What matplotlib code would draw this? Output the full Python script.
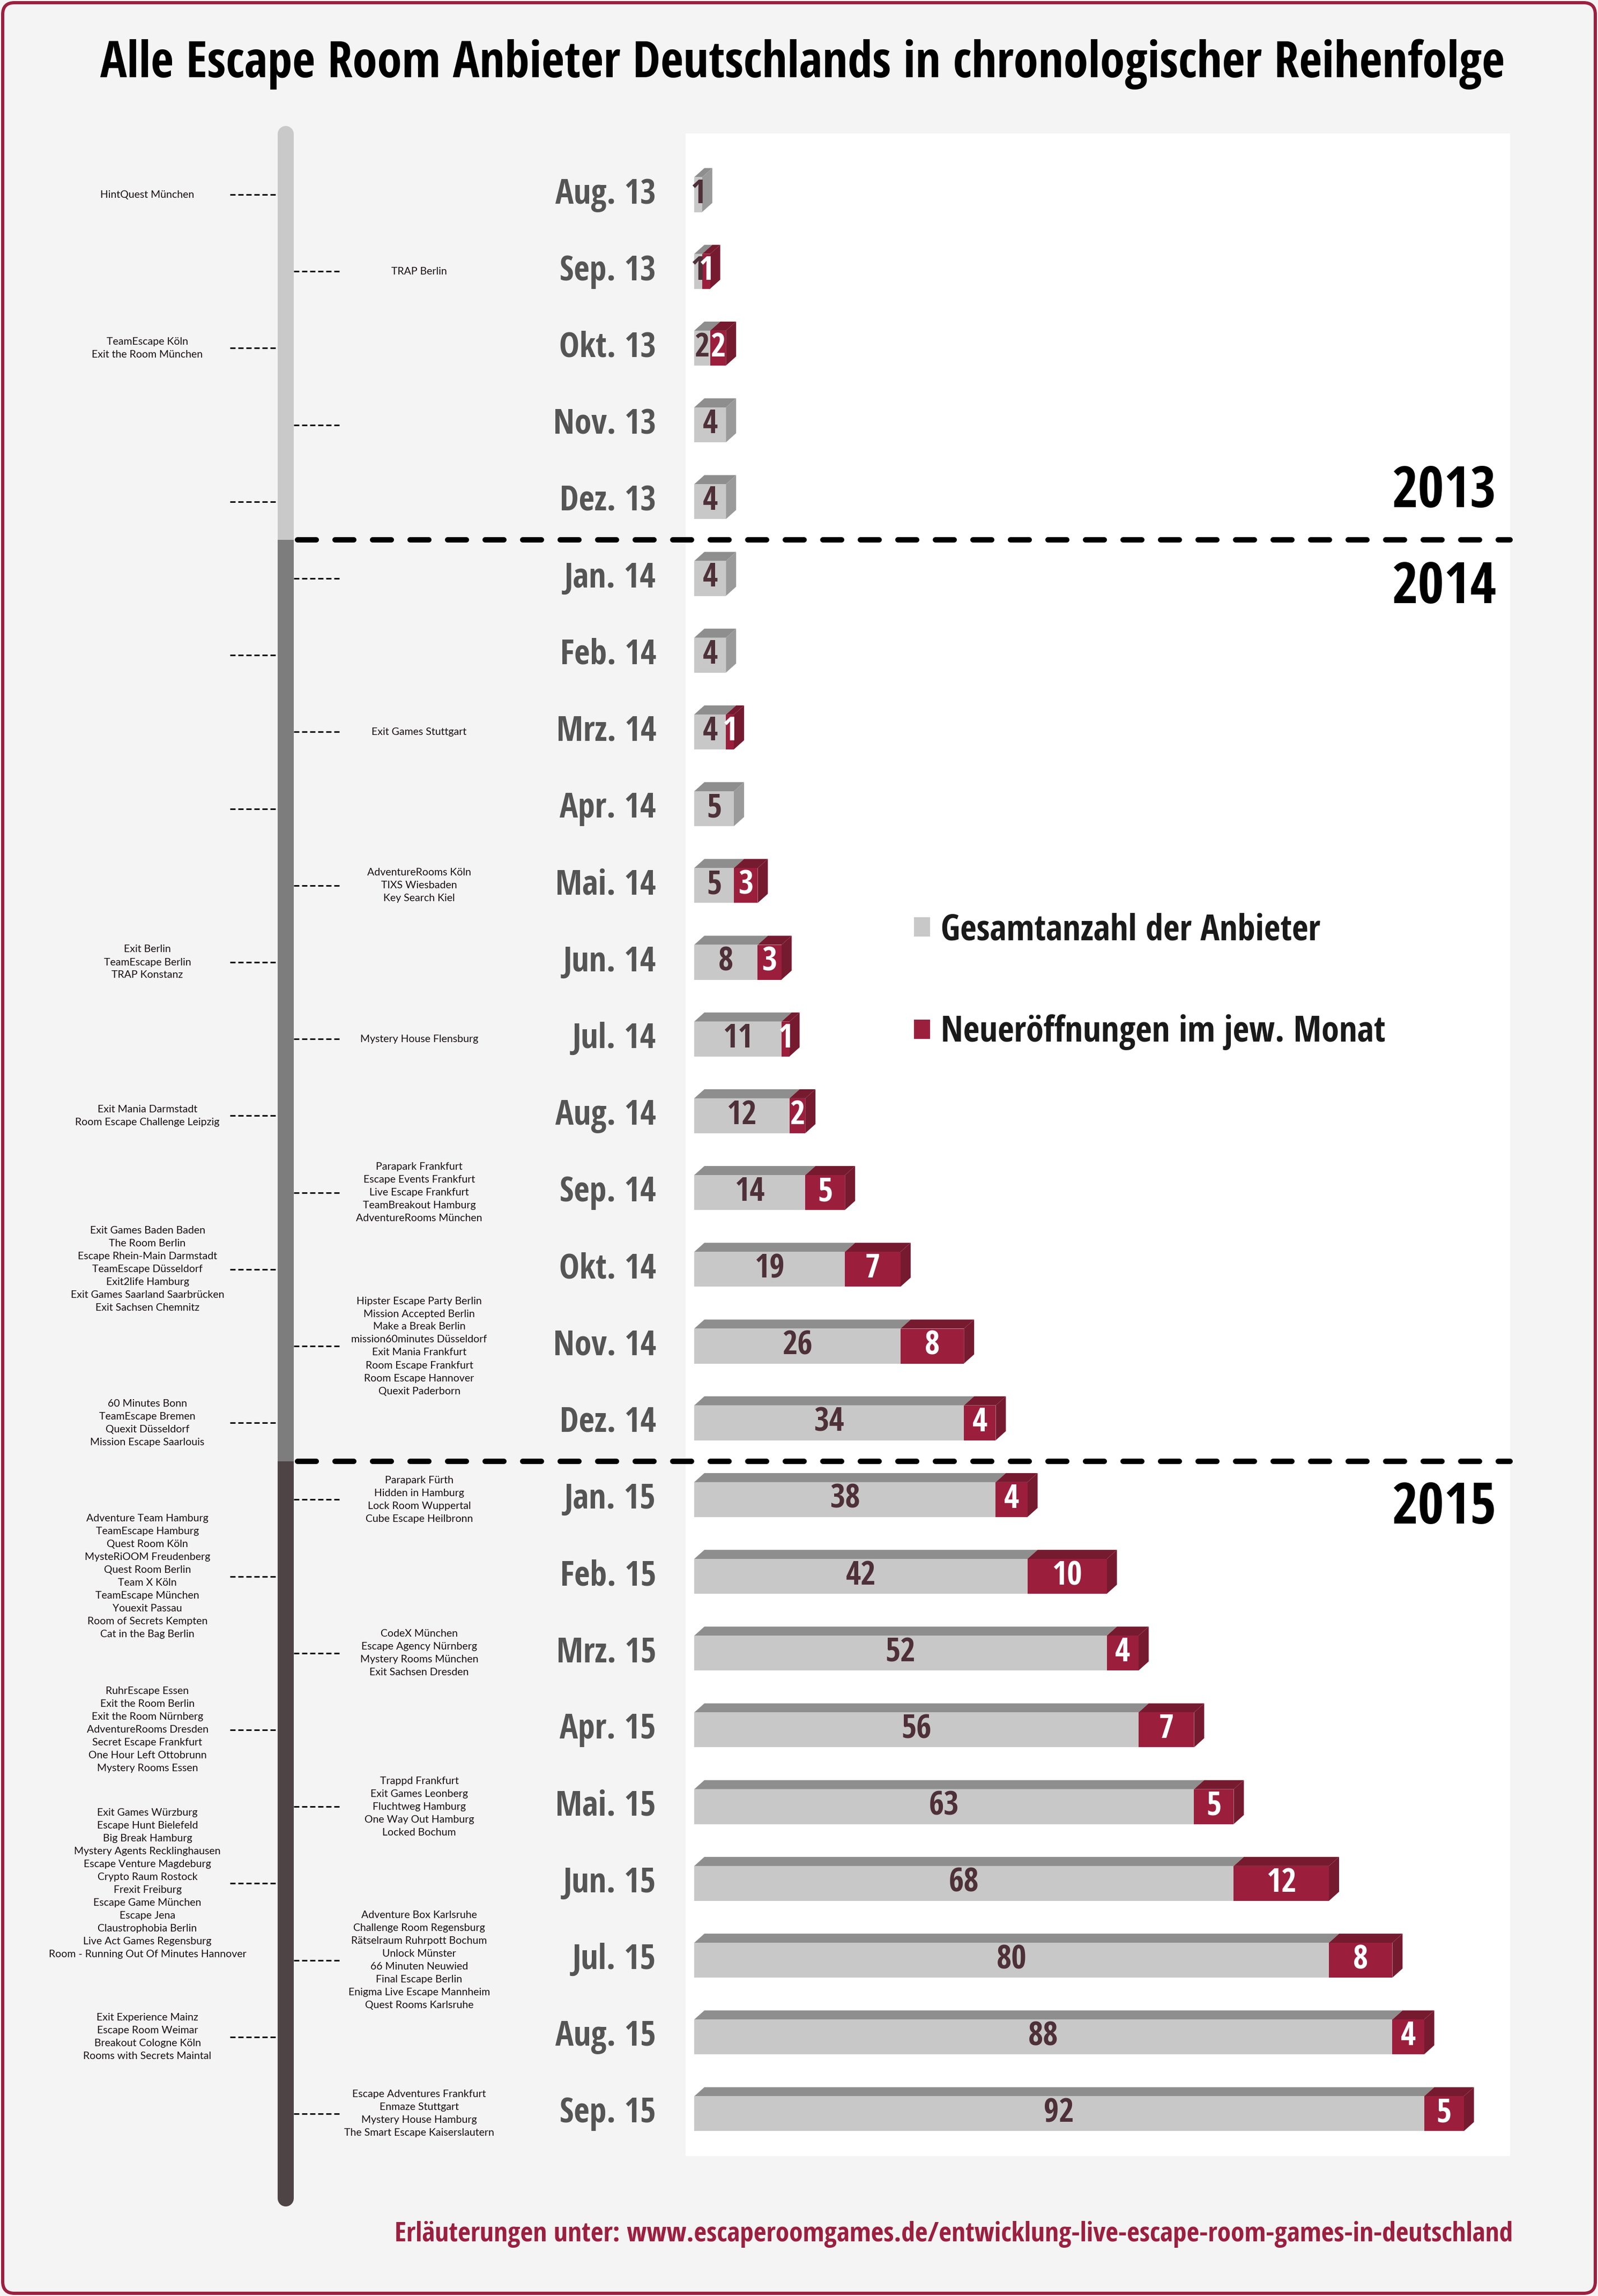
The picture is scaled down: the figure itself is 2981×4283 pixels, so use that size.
import os
import matplotlib
matplotlib.use("Agg")
import matplotlib.pyplot as plt
from matplotlib import font_manager as fm
from matplotlib import transforms
from matplotlib.patches import Polygon, FancyBboxPatch, Patch

W, H = 2981, 4283
DPI = 100
PT = 72 / DPI  # points per pixel

# --- Daten -------------------------------------------------------------
monate = ["Aug. 13", "Sep. 13", "Okt. 13", "Nov. 13", "Dez. 13",
          "Jan. 14", "Feb. 14", "Mrz. 14", "Apr. 14", "Mai. 14", "Jun. 14",
          "Jul. 14", "Aug. 14", "Sep. 14", "Okt. 14", "Nov. 14", "Dez. 14",
          "Jan. 15", "Feb. 15", "Mrz. 15", "Apr. 15", "Mai. 15", "Jun. 15",
          "Jul. 15", "Aug. 15", "Sep. 15"]
gesamt = [1, 1, 2, 4, 4, 4, 4, 4, 5, 5, 8, 11, 12, 14, 19, 26, 34,
          38, 42, 52, 56, 63, 68, 80, 88, 92]
neu = [0, 1, 2, 0, 0, 0, 0, 1, 0, 3, 3, 1, 2, 5, 7, 8, 4,
       4, 10, 4, 7, 5, 12, 8, 4, 5]
jahre = ["2013", "2014", "2015"]

anbieter = [
    ["HintQuest München"],
    ["TRAP Berlin"],
    ["TeamEscape Köln", "Exit the Room München"],
    [],
    [],
    [],
    [],
    ["Exit Games Stuttgart"],
    [],
    ["AdventureRooms Köln", "TIXS Wiesbaden", "Key Search Kiel"],
    ["Exit Berlin", "TeamEscape Berlin", "TRAP Konstanz"],
    ["Mystery House Flensburg"],
    ["Exit Mania Darmstadt", "Room Escape Challenge Leipzig"],
    ["Parapark Frankfurt", "Escape Events Frankfurt", "Live Escape Frankfurt",
     "TeamBreakout Hamburg", "AdventureRooms München"],
    ["Exit Games Baden Baden", "The Room Berlin", "Escape Rhein-Main Darmstadt",
     "TeamEscape Düsseldorf", "Exit2life Hamburg",
     "Exit Games Saarland Saarbrücken", "Exit Sachsen Chemnitz"],
    ["Hipster Escape Party Berlin", "Mission Accepted Berlin",
     "Make a Break Berlin", "mission60minutes Düsseldorf",
     "Exit Mania Frankfurt", "Room Escape Frankfurt", "Room Escape Hannover",
     "Quexit Paderborn"],
    ["60 Minutes Bonn", "TeamEscape Bremen", "Quexit Düsseldorf",
     "Mission Escape Saarlouis"],
    ["Parapark Fürth", "Hidden in Hamburg", "Lock Room Wuppertal",
     "Cube Escape Heilbronn"],
    ["Adventure Team Hamburg", "TeamEscape Hamburg", "Quest Room Köln",
     "MysteRiOOM Freudenberg", "Quest Room Berlin", "Team X Köln",
     "TeamEscape München", "Youexit Passau", "Room of Secrets Kempten",
     "Cat in the Bag Berlin"],
    ["CodeX München", "Escape Agency Nürnberg", "Mystery Rooms München",
     "Exit Sachsen Dresden"],
    ["RuhrEscape Essen", "Exit the Room Berlin", "Exit the Room Nürnberg",
     "AdventureRooms Dresden", "Secret Escape Frankfurt",
     "One Hour Left Ottobrunn", "Mystery Rooms Essen"],
    ["Trappd Frankfurt", "Exit Games Leonberg", "Fluchtweg Hamburg",
     "One Way Out Hamburg", "Locked Bochum"],
    ["Exit Games Würzburg", "Escape Hunt Bielefeld", "Big Break Hamburg",
     "Mystery Agents Recklinghausen", "Escape Venture Magdeburg",
     "Crypto Raum Rostock", "Frexit Freiburg", "Escape Game München",
     "Escape Jena", "Claustrophobia Berlin", "Live Act Games Regensburg",
     "Room - Running Out Of Minutes Hannover"],
    ["Adventure Box Karlsruhe", "Challenge Room Regensburg",
     "Rätselraum Ruhrpott Bochum", "Unlock Münster", "66 Minuten Neuwied",
     "Final Escape Berlin", "Enigma Live Escape Mannheim",
     "Quest Rooms Karlsruhe"],
    ["Exit Experience Mainz", "Escape Room Weimar", "Breakout Cologne Köln",
     "Rooms with Secrets Maintal"],
    ["Escape Adventures Frankfurt", "Enmaze Stuttgart", "Mystery House Hamburg",
     "The Smart Escape Kaiserslautern"],
]

legende = ["Gesamtanzahl der Anbieter", "Neueröffnungen im jew. Monat"]
titel = "Alle Escape Room Anbieter Deutschlands in chronologischer Reihenfolge"
fusszeile = ("Erläuterungen unter: "
             "www.escaperoomgames.de/entwicklung-live-escape-room-games-in-deutschland")

# --- Farben ------------------------------------------------------------
BG = "#f4f4f4"
ROT = "#9b1f3d"
ROT_DUNKEL = "#761a30"
GRAU = "#c8c8c8"
GRAU_DUNKEL = "#8e8e8e"
ZAHL = "#4e3039"
TIMELINE = ["#c9c9c9", "#7d7d7d", "#4e4446"]


def pick_font(names):
    for n in names:
        try:
            fm.findfont(fm.FontProperties(family=n), fallback_to_default=False)
            return n
        except Exception:
            pass
    return "DejaVu Sans"


SCHMAL = pick_font(["Liberation Sans Narrow", "Open Sans Condensed",
                    "Roboto Condensed", "Lato"])
plt.rcParams["font.family"] = [SCHMAL, "DejaVu Sans"]

# font for the small provider names: a light condensed cut if there is one
_light = fm.findfont(fm.FontProperties(family=SCHMAL, weight="light"))
if "bold" in os.path.basename(_light).lower():
    NAMEN_FONT, NAMEN_SIZE, NAMEN_LS, NAMEN_W = ["Lato", "DejaVu Sans"], 14, 1.5, "normal"
else:
    NAMEN_FONT, NAMEN_SIZE, NAMEN_LS, NAMEN_W = [SCHMAL, "DejaVu Sans"], 17, 1.12, "light"

fig = plt.figure(figsize=(W / DPI, H / DPI), dpi=DPI, facecolor=BG)

# background axes in pixel coordinates
bg = fig.add_axes([0, 0, 1, 1])
bg.set_xlim(0, W)
bg.set_ylim(H, 0)
bg.axis("off")
bg.add_patch(FancyBboxPatch((5, 5), W - 10, H - 10,
                            boxstyle="round,pad=0,rounding_size=22",
                            facecolor=BG, edgecolor="#9b2040", lw=6 * PT))

# bar axes: x = Anzahl, y = Monatsindex
x0_px, px_per_unit = 1295, 14.8
row0_px, row_px = 363, 143.2
pl, pr, pt_, pb = 1279, 2817, 249, 4022
ax = fig.add_axes([pl / W, 1 - pb / H, (pr - pl) / W, (pb - pt_) / H])
ax.set_facecolor("white")
ax.set_xlim((pl - x0_px) / px_per_unit, (pr - x0_px) / px_per_unit)
ax.set_ylim((pb - row0_px) / row_px, (pt_ - row0_px) / row_px)
ax.set_xticks([])
ax.set_yticks([])
for s in ax.spines.values():
    s.set_visible(False)

tr = transforms.blended_transform_factory(bg.transData, ax.transData)

ypos = list(range(len(monate)))
BH = 65 / row_px
DX = 19 / px_per_unit
DY = 17 / row_px

ax.barh(ypos, gesamt, height=BH, color=GRAU, zorder=3)
ax.barh(ypos, neu, left=gesamt, height=BH, color=ROT, zorder=3)

for y, g, n in zip(ypos, gesamt, neu):
    top = y - BH / 2
    ax.add_patch(Polygon([(0, top), (g, top), (g + DX, top - DY), (DX, top - DY)],
                         closed=True, color=GRAU_DUNKEL, lw=0, zorder=2))
    end = g + n
    if n > 0:
        ax.add_patch(Polygon([(g, top), (end, top), (end + DX, top - DY),
                              (g + DX, top - DY)],
                             closed=True, color=ROT_DUNKEL, lw=0, zorder=2.5))
    side_col = ROT_DUNKEL if n > 0 else "#9a9a9a"
    ax.add_patch(Polygon([(end, top), (end + DX, top - DY),
                          (end + DX, top + BH - DY), (end, top + BH)],
                         closed=True, color=side_col, lw=0, zorder=2.5))
    ax.text(g / 2, y, str(g), ha="center", va="center", fontsize=44,
            fontweight="bold", color=ZAHL, zorder=5)
    if n > 0:
        ax.text(g + n / 2, y, str(n), ha="center", va="center", fontsize=44,
                fontweight="bold", color="white", zorder=5)

# Monatsnamen
for y, m in zip(ypos, monate):
    bg.text(1224, y, m, transform=tr, ha="right", va="center", fontsize=46,
            fontweight="bold", color="#555555")

# Jahreswechsel
wechsel = [i - 0.5 for i in range(1, len(monate))
           if monate[i][-2:] != monate[i - 1][-2:]]

# Zeitstrahl
grenzen = [-0.79] + wechsel + [26.1]
lw_tl = 30 * PT
bg.plot([533, 533], [grenzen[0], grenzen[1]], transform=tr,
        color=TIMELINE[0], lw=lw_tl, solid_capstyle="round")
bg.plot([533, 533], [grenzen[2], grenzen[3]], transform=tr,
        color=TIMELINE[2], lw=lw_tl, solid_capstyle="round")
bg.plot([533, 533], [grenzen[1], grenzen[2]], transform=tr,
        color=TIMELINE[1], lw=lw_tl, solid_capstyle="butt")

for w in wechsel:
    ax.plot([555, 2817], [w, w], transform=tr, color="black", lw=10 * PT,
            dashes=(3.5, 3.5), dash_capstyle="round", clip_on=False, zorder=6)

jahr_y = [wechsel[0] - 0.62, wechsel[0] + 0.63, wechsel[1] + 0.62]
for j, yy in zip(jahre, jahr_y):
    ax.text(2792, yy, j, transform=tr, ha="right", va="center", fontsize=76,
            fontweight="bold", color="black", zorder=6)

# Verbindungslinien und Anbieternamen
for y, namen in zip(ypos, anbieter):
    if y % 2 == 0:
        xs, xt = (429, 518), 275
    else:
        xs, xt = (548, 634), 782
    bg.plot(xs, [y, y], transform=tr, color="#151515", lw=3 * PT,
            dashes=(3.3, 1.7))
    if namen:
        bg.text(xt, y, "\n".join(namen), transform=tr, ha="center",
                va="center", multialignment="center", family=NAMEN_FONT,
                fontsize=NAMEN_SIZE, fontweight=NAMEN_W,
                linespacing=NAMEN_LS, color="#1a1013")

# Legende
handles = [Patch(facecolor=GRAU, edgecolor="none"),
           Patch(facecolor=ROT, edgecolor="none")]
ax.legend(handles, legende, loc="upper left",
          bbox_to_anchor=(1705 / W, 1 - 1702 / H), bbox_transform=fig.transFigure,
          frameon=False, prop=dict(family=SCHMAL, size=48, weight="bold"),
          labelcolor="#1a1a1a", handlelength=0.45, handleheight=0.45,
          handletextpad=0.3, labelspacing=1.85, borderpad=0, borderaxespad=0)

# Titel und Fusszeile
bg.text(1497, 120, titel, ha="center", va="center", fontsize=67,
        fontweight="bold", color="black")
bg.text(2822, 4168, fusszeile, ha="right", va="center", fontsize=37,
        color="#9b2040")

fig.savefig("out.png", dpi=DPI, facecolor=BG)
